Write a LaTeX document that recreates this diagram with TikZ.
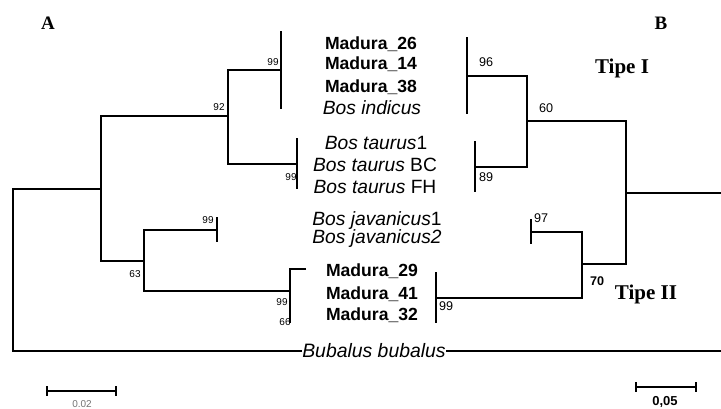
\documentclass[tikz,border=0pt]{standalone}
\usepackage{fontspec}
\setmainfont{Liberation Serif}
\setsansfont{Liberation Sans}
\usetikzlibrary{calc}

\begin{document}
\begin{tikzpicture}[x=0.5pt, y=-0.5pt,
    branch/.style={line width=0.6pt},
    boot/.style={font=\sffamily\fontsize{5}{5}\selectfont, inner sep=0pt},
    bootr/.style={font=\sffamily\fontsize{6.3}{6.3}\selectfont, inner sep=0pt},
    madura/.style={font=\sffamily\bfseries\fontsize{8.8}{8.8}\selectfont, inner sep=0pt},
    taxon/.style={font=\sffamily\fontsize{9.6}{9.6}\selectfont, inner sep=0pt},
    panel/.style={font=\rmfamily\bfseries\fontsize{9.5}{9.5}\selectfont, inner sep=0pt},
    tipe/.style={font=\rmfamily\bfseries\fontsize{10.5}{10.5}\selectfont, inner sep=0pt}]
    \useasboundingbox (0,0) rectangle (721,408);

    % taxa in the middle
    \node[madura] (m26) at (371,44) {Madura\_26};
    \node[madura] (m14) at (371,64) {Madura\_14};
    \node[madura] (m38) at (371,87) {Madura\_38};
    \node[taxon] (bind) at (372,108) {\textit{Bos indicus}};
    \node[taxon] (bt1) at (376,143) {\textit{Bos taurus}1};
    \node[taxon] (btbc) at (375,165) {\textit{Bos taurus} BC};
    \node[taxon] (btfh) at (375,187) {\textit{Bos taurus} FH};
    \node[taxon] (bj1) at (377,221) {\textit{Bos javanicus}1};
    \node[taxon] (bj2) at (377,239) {\textit{Bos javanicus2}};
    \node[madura] (m29) at (372,271) {Madura\_29};
    \node[madura] (m41) at (372,294) {Madura\_41};
    \node[madura] (m32) at (372,315) {Madura\_32};
    \node[taxon, font=\sffamily\fontsize{9.7}{9.7}\selectfont] (bub) at (374,351) {\textit{Bubalus bubalus}};

    % tree A
    \node[panel] (pa) at (48,23) {A};
    \coordinate (la) at (13,189);
    \coordinate (lb) at (101,189);
    \coordinate (lc) at (228,116);
    \coordinate (lf) at (144,261);
    \coordinate (lg) at (290,291);
    \coordinate (lt1) at (281,70);
    \coordinate (lt2) at (297,164);
    \coordinate (lt3) at (217,230);
    \coordinate (lt4) at (306,269);
    \draw[branch] (lb) -| (la) |- (bub.west);
    \draw[branch] (lc) -- (101,116) |- (lf);
    \draw[branch] (lt1) -| (lc) |- (lt2);
    \draw[branch] (lt3) -| (lf) |- (lg);
    \draw[branch] (lt4) -| (lg) -- (290,323);
    \draw[branch] (281,31) -- (281,109);
    \draw[branch] (297,138) -- (297,189);
    \draw[branch] (217,217) -- (217,242);
    \node[boot] at (273,62) {99};
    \node[boot] at (219,107) {92};
    \node[boot] at (291,177) {99};
    \node[boot] at (208,220) {99};
    \node[boot] at (135,274) {63};
    \node[boot] at (282,302) {99};
    \node[boot] at (285,322) {66};

    % tree B
    \node[panel] (pb) at (661,23) {B};
    \coordinate (ra) at (721,193);
    \coordinate (rb) at (626,193);
    \coordinate (rc) at (527,121);
    \coordinate (rf) at (582,264);
    \coordinate (rt1) at (467,76);
    \coordinate (rt2) at (475,167);
    \coordinate (rt3) at (531,232);
    \coordinate (rt4) at (436,298);
    \draw[branch] (ra) -- (rb);
    \draw[branch] (rc) -| (rb) |- (rf);
    \draw[branch] (rt1) -| (rc) |- (rt2);
    \draw[branch] (rt3) -| (rf) |- (rt4);
    \draw[branch] (467,37) -- (467,114);
    \draw[branch] (475,141) -- (475,192);
    \draw[branch] (531,219) -- (531,244);
    \draw[branch] (436,272) -- (436,323);
    \draw[branch] (bub.east) -- (bub.east -| ra);
    \node[bootr] at (486,62) {96};
    \node[bootr] at (546,108) {60};
    \node[bootr] at (486,177) {89};
    \node[bootr] at (541,218) {97};
    \node[bootr, font=\sffamily\bfseries\fontsize{6.3}{6.3}\selectfont] at (597,281) {70};
    \node[bootr] at (446,306) {99};
    \node[tipe] (t1) at (622,68) {Tipe I};
    \node[tipe] (t2) at (646,294) {Tipe II};

    % scale bars
    \coordinate (sa1) at (47,391);
    \coordinate (sa2) at (116,391);
    \draw[branch] (sa1) -- (sa2);
    \draw[branch] ($(sa1)+(0,-5)$) -- ($(sa1)+(0,5)$);
    \draw[branch] ($(sa2)+(0,-5)$) -- ($(sa2)+(0,5)$);
    \node[boot, text=black!55] at (82,404) {0.02};
    \coordinate (sb1) at (636,387);
    \coordinate (sb2) at (696,387);
    \draw[branch] (sb1) -- (sb2);
    \draw[branch] ($(sb1)+(0,-5)$) -- ($(sb1)+(0,5)$);
    \draw[branch] ($(sb2)+(0,-5)$) -- ($(sb2)+(0,5)$);
    \node[bootr, font=\sffamily\bfseries\fontsize{6.5}{6.5}\selectfont] at (665,402) {0,05};
\end{tikzpicture}
\end{document}
